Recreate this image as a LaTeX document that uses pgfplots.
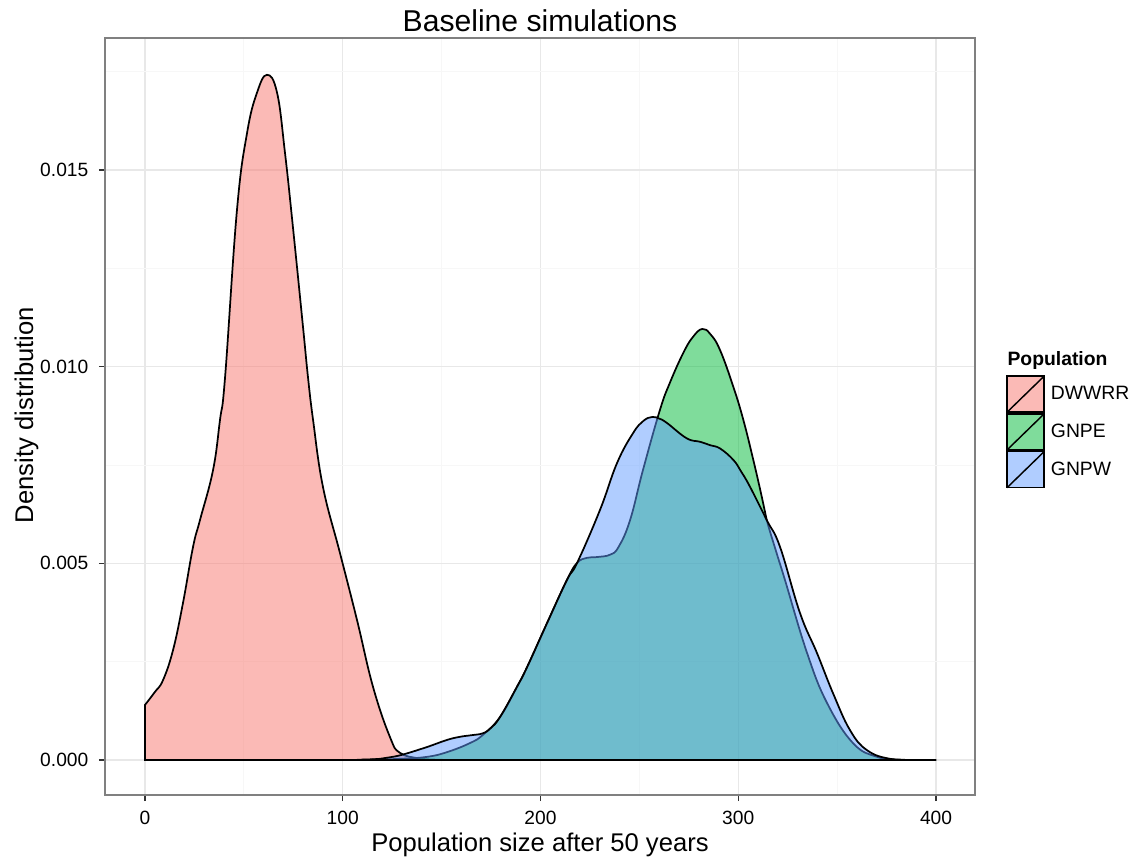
\documentclass[border=0pt]{standalone}
\usepackage{pgfplots}
\pgfplotsset{compat=1.18}
\usepackage{fontspec}
\setmainfont{Liberation Sans}
\definecolor{cR}{HTML}{F8766D}
\definecolor{cG}{HTML}{00BA38}
\definecolor{cB}{HTML}{619CFF}
\begin{document}
\begin{tikzpicture}
\path[use as bounding box] (0,0) rectangle (852.75pt,643.5pt);
\begin{axis}[
  at={(78.75pt,47.25pt)}, anchor=south west,
  scale only axis, width=652.5pt, height=567.75pt,
  clip=false,
  xmin=-20.23, xmax=419.72, ymin=-0.00089, ymax=0.018356,
  xtick={0,100,200,300,400},
  ytick={0,0.005,0.01,0.015},
  minor xtick={50,150,250,350},
  minor ytick={0.0025,0.0075,0.0125,0.0175},
  grid=both,
  major grid style={draw=black!9, line width=1pt},
  minor grid style={draw=black!3, line width=0.7pt},
  axis line style={draw=black!50, line width=1.1pt},
  tick align=outside, xtick pos=lower, ytick pos=left,
  major tick length=4.5pt, minor tick length=0pt,
  tick style={draw=black!80, line width=1.1pt},
  scaled y ticks=false,
  /pgf/number format/assume math mode=true,
  ticklabel style={font=\fontsize{14.4}{17}\selectfont, text=black},
  yticklabel style={xshift=-4.5pt, /pgf/number format/.cd, fixed, fixed zerofill, precision=3},
  xticklabel style={yshift=-3.75pt},
  title={Baseline simulations},
  title style={at={(0.5,0.9986)}, anchor=base, font=\fontsize{22.6}{27}\selectfont},
  xlabel={Population size after 50 years},
  xlabel style={at={(0.5,-0.074)}, anchor=base, font=\fontsize{19.2}{23}\selectfont},
  ylabel={Density distribution},
  ylabel style={at={(-0.0825,0.502)}, anchor=base, font=\fontsize{19.2}{23}\selectfont},
  legend style={at={(1.0356,0.5548)}, anchor=north west, draw=none, fill=none,
    inner sep=0pt, row sep=0pt, column sep=4.5pt,
    font=\fontsize{14.5}{17}\selectfont, nodes={inner sep=0pt}},
  legend cell align=left,
  legend image code/.code={
    \draw[#1] (0pt,-13.5pt) rectangle (27.75pt,13.5pt);
    \draw[black, line width=1.1pt] (0pt,-13.5pt) -- (27.75pt,13.5pt);
  },
]
\addplot[draw=black, line width=1.3pt, fill=cR, fill opacity=0.5, smooth, tension=0.7] coordinates {
(0,0.0014) (5,0.00173) (9.1,0.00203) (14.2,0.0028) (19.2,0.00399) (24.3,0.00542)
(27.8,0.0061) (34.4,0.00737) (37.9,0.00864) (40.5,0.00974) (46.5,0.01398)
(51.6,0.01594) (56.6,0.01696) (61.7,0.01742) (66.8,0.01696) (70.8,0.01543)
(74.8,0.01355) (79.9,0.01101) (82.4,0.00974) (85.0,0.00864) (90.0,0.00694)
(98.6,0.00526) (107.2,0.00356) (115.3,0.00186) (123.9,0.00058) (129,0.00018)
(139,0.00004) (150,0.000005) (160,0) (250,0) (400,0)
} \closedcycle;
\addlegendentry{DWWRR}
\addplot[draw=black, line width=1.3pt, fill=cG, fill opacity=0.5, smooth, tension=0.7] coordinates {
(0,0) (60,0) (100,0) (115,0.00001) (129,0.00003) (142.6,0.00008) (152.7,0.0002)
(164.3,0.00043) (170.9,0.00064) (179.5,0.00109) (188.1,0.00186) (193.2,0.00236)
(203.3,0.00348) (213.4,0.00458) (218.5,0.00501) (223.5,0.00514) (228.6,0.00516)
(235.2,0.00522) (239.5,0.00542) (245.3,0.0061) (251.8,0.00737) (260.4,0.0089)
(265.5,0.0096) (272.2,0.01035) (277,0.01075) (281.8,0.01096) (286,0.01082)
(290.8,0.01042) (297.5,0.00949) (302.6,0.00864) (307.6,0.00763) (311.9,0.00669)
(314.4,0.0061) (319.4,0.00526) (323.6,0.00458) (334.8,0.00272)
(344.9,0.00145) (358,0.00043) (370.2,0.00008) (382,0.00001) (392,0) (400,0)
} \closedcycle;
\addlegendentry{GNPE}
\addplot[draw=black, line width=1.3pt, fill=cB, fill opacity=0.5, smooth, tension=0.7] coordinates {
(0,0) (60,0) (100,0) (110,0.00001) (118.8,0.00003) (124,0.00007) (130.5,0.00014)
(142.6,0.00033) (152.7,0.00051) (159.3,0.00059) (165,0.00063) (170.9,0.00068)
(175,0.00082) (179.5,0.00109) (188.1,0.00186) (193.2,0.00236) (203.3,0.00348) (213.4,0.00458)
(218.5,0.00501) (230.1,0.00636) (238.7,0.00755) (246.8,0.00831) (252,0.00862)
(256.4,0.00872) (260,0.00868) (263.9,0.00857) (273.9,0.00818) (280.7,0.00809)
(286,0.008) (290.8,0.00792) (297.5,0.00763) (301.5,0.00733) (305.9,0.00695)
(314.4,0.0061) (321.1,0.00542) (331.2,0.00374) (339.8,0.00272) (347.9,0.0017)
(356.5,0.00076) (365.1,0.00025) (376.7,0.00003) (390,0) (400,0)
} \closedcycle;
\addlegendentry{GNPW}
\node[anchor=base west, font=\bfseries\fontsize{14.5}{17}\selectfont] at (rel axis cs:1.032,0.568) {Population};
\end{axis}
\end{tikzpicture}
\end{document}
